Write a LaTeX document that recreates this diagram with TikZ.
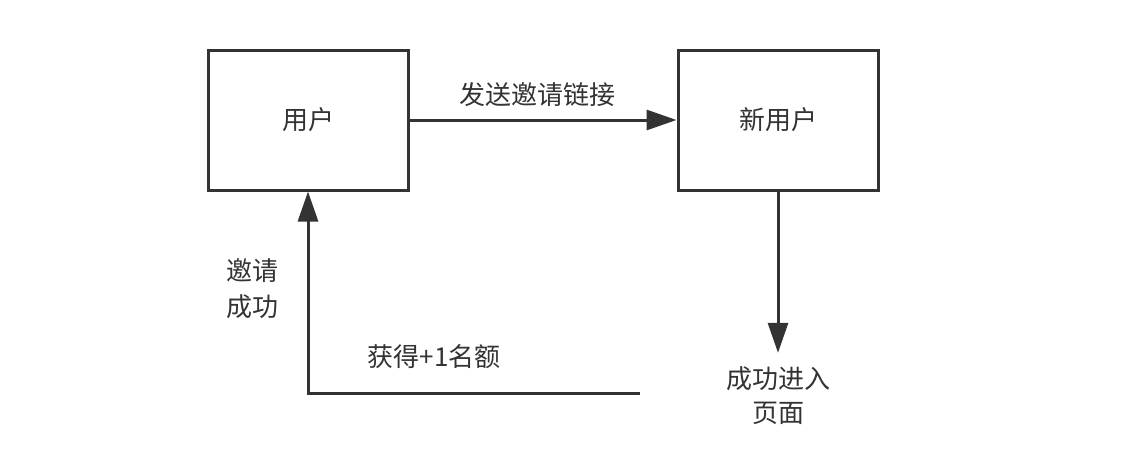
\documentclass[tikz,border=0pt]{standalone}
\usepackage{fontspec}
\newfontfamily\cjk{Noto Sans CJK SC}
\usetikzlibrary{arrows.meta}
\definecolor{ink}{HTML}{333333}
\tikzset{
  box/.style={draw=ink, line width=3pt, minimum width=200pt, minimum height=140pt},
  flow/.style={draw=ink, line width=3pt, -{Triangle[length=30pt,width=20pt]}},
  lbl/.style={inner sep=0pt, align=center}
}

\begin{document}
\begin{tikzpicture}[x=1pt, y=-1pt, text=ink, font=\cjk\fontsize{26}{36}\selectfont]
\useasboundingbox (0,0) rectangle (1131,466);

\node[box] (User) at (308,120) {用户};
\node[box] (NewUser) [node distance=470pt, right of=User] {新用户};
\node[lbl, inner ysep=14pt, font=\cjk\fontsize{26}{34}\selectfont] (Enter) [node distance=276pt, below of=NewUser] {成功进入\\页面};
\coordinate (LoopEnd) at (640,393);

\draw [flow] (User) -- node[lbl, pos=0.48, above=12pt] {发送邀请链接} (NewUser);
\draw [flow] (NewUser) -- (Enter);
\draw [flow] (LoopEnd) -| node[lbl, pos=0.31, above=23pt] {获得+1名额}
  node[lbl, pos=0.76, anchor=east, xshift=-28pt] {邀请\\成功} (User);

\end{tikzpicture}
\end{document}
